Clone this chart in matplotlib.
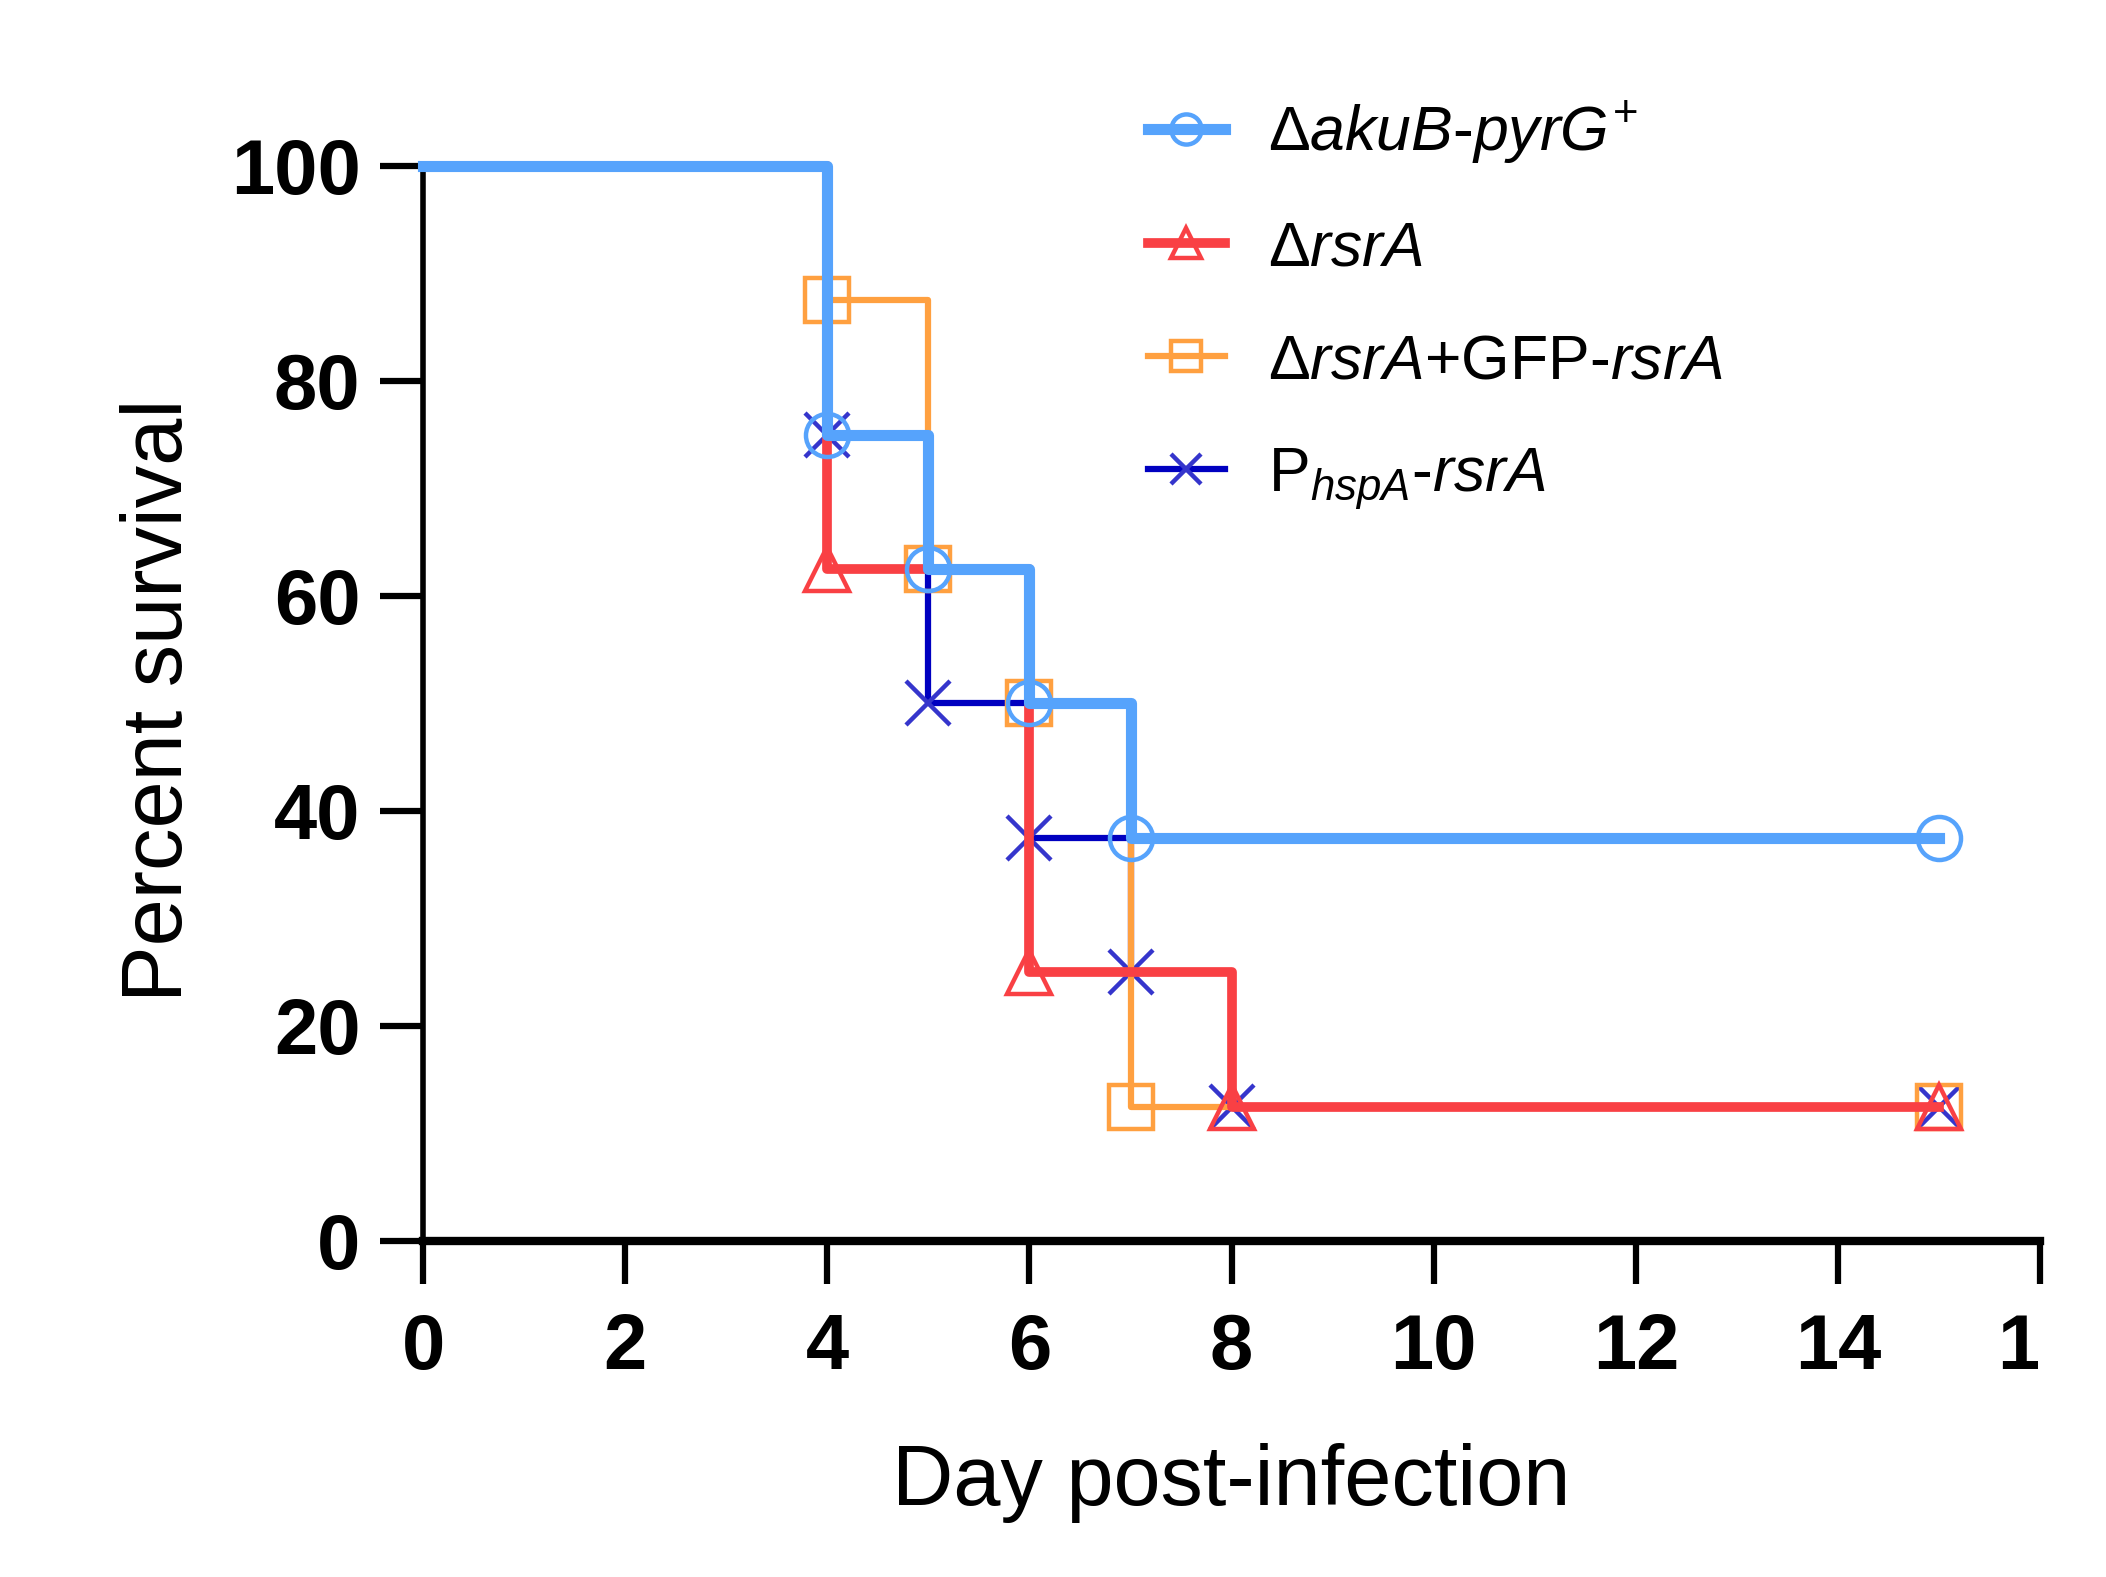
import matplotlib
matplotlib.use("Agg")
import matplotlib.pyplot as plt
from matplotlib.transforms import Bbox, TransformedBbox

plt.rcParams['font.family'] = ['Liberation Sans', 'DejaVu Sans']
plt.rcParams['mathtext.fontset'] = 'custom'
plt.rcParams['mathtext.rm'] = 'Liberation Sans'
plt.rcParams['mathtext.it'] = 'Liberation Sans:italic'
plt.rcParams['mathtext.bf'] = 'Liberation Sans:bold'

# Kaplan-Meier survival steps (day, percent survival)
aku_days = [0, 4, 5, 6, 7, 15]
aku_surv = [100, 75, 62.5, 50, 37.5, 37.5]

rsr_days = [0, 4, 6, 8, 15]
rsr_surv = [100, 62.5, 25, 12.5, 12.5]

gfp_days = [0, 4, 5, 6, 7, 15]
gfp_surv = [100, 87.5, 62.5, 50, 12.5, 12.5]

hsp_days = [0, 4, 5, 6, 7, 8, 15]
hsp_surv = [100, 75, 50, 37.5, 25, 12.5, 12.5]

labels = [r'$\mathit{ΔakuB}$-$\mathit{pyrG}^{+}$',
          r'$\mathit{ΔrsrA}$',
          r'$\mathit{ΔrsrA}$+GFP-$\mathit{rsrA}$',
          r'P$_{\mathit{hspA}}$-$\mathit{rsrA}$']

x_ticks = list(range(0, 17, 2))
y_ticks = list(range(0, 101, 20))

fig = plt.figure(figsize=(21.06, 15.77), dpi=100)
ax = fig.add_axes([0.2009, 0.2131, 0.9687 - 0.2009, 0.8949 - 0.2131])

series = [
    (aku_days, aku_surv, '#56A3FC', 'o', 8.0, 4),
    (rsr_days, rsr_surv, '#F94044', '^', 7.0, 3),
    (gfp_days, gfp_surv, '#FFA040', 's', 4.5, 2),
    (hsp_days, hsp_surv, '#0000C0', 'x', 4.5, 1),
]
mcols = ['#56A3FC', '#F94044', '#FFA040', '#3535CC']

handles = []
for (d, s, c, m, lw, z), mc, lab in zip(series, mcols, labels):
    ln, = ax.step(d, s, where='post', color=c, lw=lw, zorder=z,
                  marker=m, markevery=slice(1, None), markersize=31,
                  markerfacecolor='none', markeredgecolor=mc,
                  markeredgewidth=3.2, clip_on=False, label=lab)
    handles.append(ln)

ax.set_xlim(0, 16)
ax.set_ylim(0, 100)
ax.set_xticks(x_ticks)
ax.set_yticks(y_ticks)

for side in ['top', 'right']:
    ax.spines[side].set_visible(False)
ax.spines['left'].set_linewidth(4)
ax.spines['bottom'].set_linewidth(6)

ax.tick_params(axis='both', length=31, width=4.5, color='black')
ax.tick_params(axis='x', pad=20)
ax.tick_params(axis='y', pad=14)
for t in ax.get_xticklabels() + ax.get_yticklabels():
    t.set_fontsize(56)
    t.set_fontweight('bold')

# right-most tick label is cut at the edge of the axis in the original
last = ax.get_xticklabels()[-1]
last.set_clip_box(TransformedBbox(Bbox([[0, 0], [0.9675, 1]]), fig.transFigure))
last.set_clip_on(True)

ax.set_xlabel('Day post-infection', fontsize=61)
ax.set_ylabel('Percent survival', fontsize=61)
ax.xaxis.set_label_coords(0.5, -0.188)
ax.yaxis.set_label_coords(-0.138, 0.503)

fig.legend(handles=handles, loc='upper left', bbox_to_anchor=(0.545, 0.937),
           frameon=False, fontsize=45, handlelength=1.23, handletextpad=0.7,
           labelspacing=0.86, borderpad=0, borderaxespad=0, numpoints=1,
           markerscale=0.7)

fig.savefig('out.png', dpi=100, facecolor='white')
